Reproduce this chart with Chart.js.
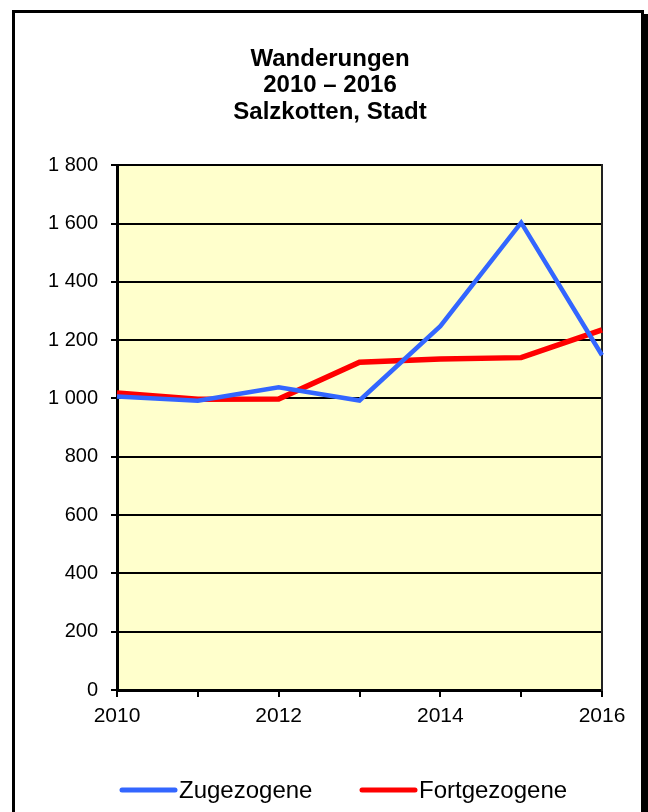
<!DOCTYPE html>
<html>
<head>
<meta charset="utf-8">
<script src="https://cdn.jsdelivr.net/npm/chart.js@4.4.1/dist/chart.umd.min.js"></script>
<style>
  html, body { margin: 0; padding: 0; background: #fff; overflow: hidden; }
  body { width: 648px; height: 812px; position: relative; }
  #frame {
    position: absolute; left: 12px; top: 10px;
    width: 626px; height: 900px;
    border: 3px solid #000;
    box-shadow: 4px 4px 0 #000;
  }
  #chart { position: absolute; left: 0; top: 0; }
</style>
</head>
<body>
<div id="frame"></div>
<canvas id="chart" width="648" height="812"></canvas>
<script>
const years = ['2010', '2011', '2012', '2013', '2014', '2015', '2016'];
const zugezogene = [1007, 992, 1038, 993, 1248, 1603, 1148];
const fortgezogene = [1019, 997, 998, 1124, 1135, 1140, 1235];
const titleLines = ['Wanderungen', '2010 \u2013 2016', 'Salzkotten, Stadt'];
const yTicks = { min: 0, max: 1800, step: 200 };

const FONT = '"Liberation Sans", Arial, sans-serif';

// yellow plot background
const plotArea = {
  id: 'plotArea',
  beforeDraw(chart) {
    const { ctx, chartArea: a } = chart;
    ctx.save();
    ctx.fillStyle = '#FFFFCC';
    ctx.fillRect(a.left, a.top, a.right - a.left, a.bottom - a.top);
    ctx.restore();
  }
};

// legend drawn as line samples under the axis
const lineLegend = {
  id: 'lineLegend',
  afterDraw(chart) {
    const { ctx } = chart;
    const starts = [120, 360];
    ctx.save();
    chart.data.datasets.forEach((ds, i) => {
      const x = starts[i];
      ctx.strokeStyle = ds.borderColor;
      ctx.lineWidth = 5;
      ctx.lineCap = 'round';
      ctx.beginPath();
      ctx.moveTo(x + 2, 790);
      ctx.lineTo(x + 55, 790);
      ctx.stroke();
      ctx.fillStyle = '#000';
      ctx.font = '24px ' + FONT;
      ctx.textBaseline = 'alphabetic';
      ctx.fillText(ds.label, x + 59, 798);
    });
    ctx.restore();
  }
};

const fmt = v => String(v).replace(/\B(?=(\d{3})+(?!\d))/g, ' ');

new Chart(document.getElementById('chart'), {
  type: 'line',
  data: {
    labels: years,
    datasets: [
      {
        label: 'Zugezogene',
        data: zugezogene,
        borderColor: '#3366FF',
        backgroundColor: '#3366FF',
        borderWidth: 4.5,
        pointRadius: 0,
        tension: 0,
        fill: false
      },
      {
        label: 'Fortgezogene',
        data: fortgezogene,
        borderColor: '#FF0000',
        backgroundColor: '#FF0000',
        borderWidth: 5.5,
        pointRadius: 0,
        tension: 0,
        fill: false
      }
    ]
  },
  options: {
    responsive: false,
    animation: false,
    devicePixelRatio: 1,
    layout: { padding: { left: 12, right: 0, top: 0, bottom: 0 } },
    plugins: {
      legend: { display: false },
      tooltip: { enabled: false },
      title: {
        display: true,
        text: titleLines,
        color: '#000',
        font: { family: FONT, size: 24, weight: 'bold', lineHeight: 1.1 },
        padding: { top: 46, bottom: 40 }
      }
    },
    scales: {
      x: {
        type: 'category',
        offset: false,
        afterFit: s => { s.height = 122; },
        grid: { drawOnChartArea: false, color: '#000', lineWidth: 2, tickLength: 7 },
        border: { color: '#000', width: 3 },
        ticks: {
          color: '#000',
          font: { family: FONT, size: 21 },
          padding: 7,
          autoSkip: false,
          maxRotation: 0,
          callback: function (v, i) { return i % 2 === 0 ? this.getLabelForValue(v) : ''; }
        }
      },
      y: {
        min: yTicks.min,
        max: yTicks.max,
        afterFit: s => { s.width = 105; },
        grid: { color: '#000', lineWidth: 2, tickLength: 6 },
        border: { color: '#000', width: 3 },
        ticks: {
          stepSize: yTicks.step,
          color: '#000',
          font: { family: FONT, size: 20 },
          padding: 13,
          callback: v => fmt(v)
        }
      },
      y2: {
        position: 'right',
        min: yTicks.min,
        max: yTicks.max,
        afterFit: s => { s.width = 46; },
        grid: { drawOnChartArea: false, drawTicks: false },
        border: { color: '#222', width: 2 },
        ticks: { display: false }
      }
    }
  },
  plugins: [plotArea, lineLegend]
});
</script>
</body>
</html>
